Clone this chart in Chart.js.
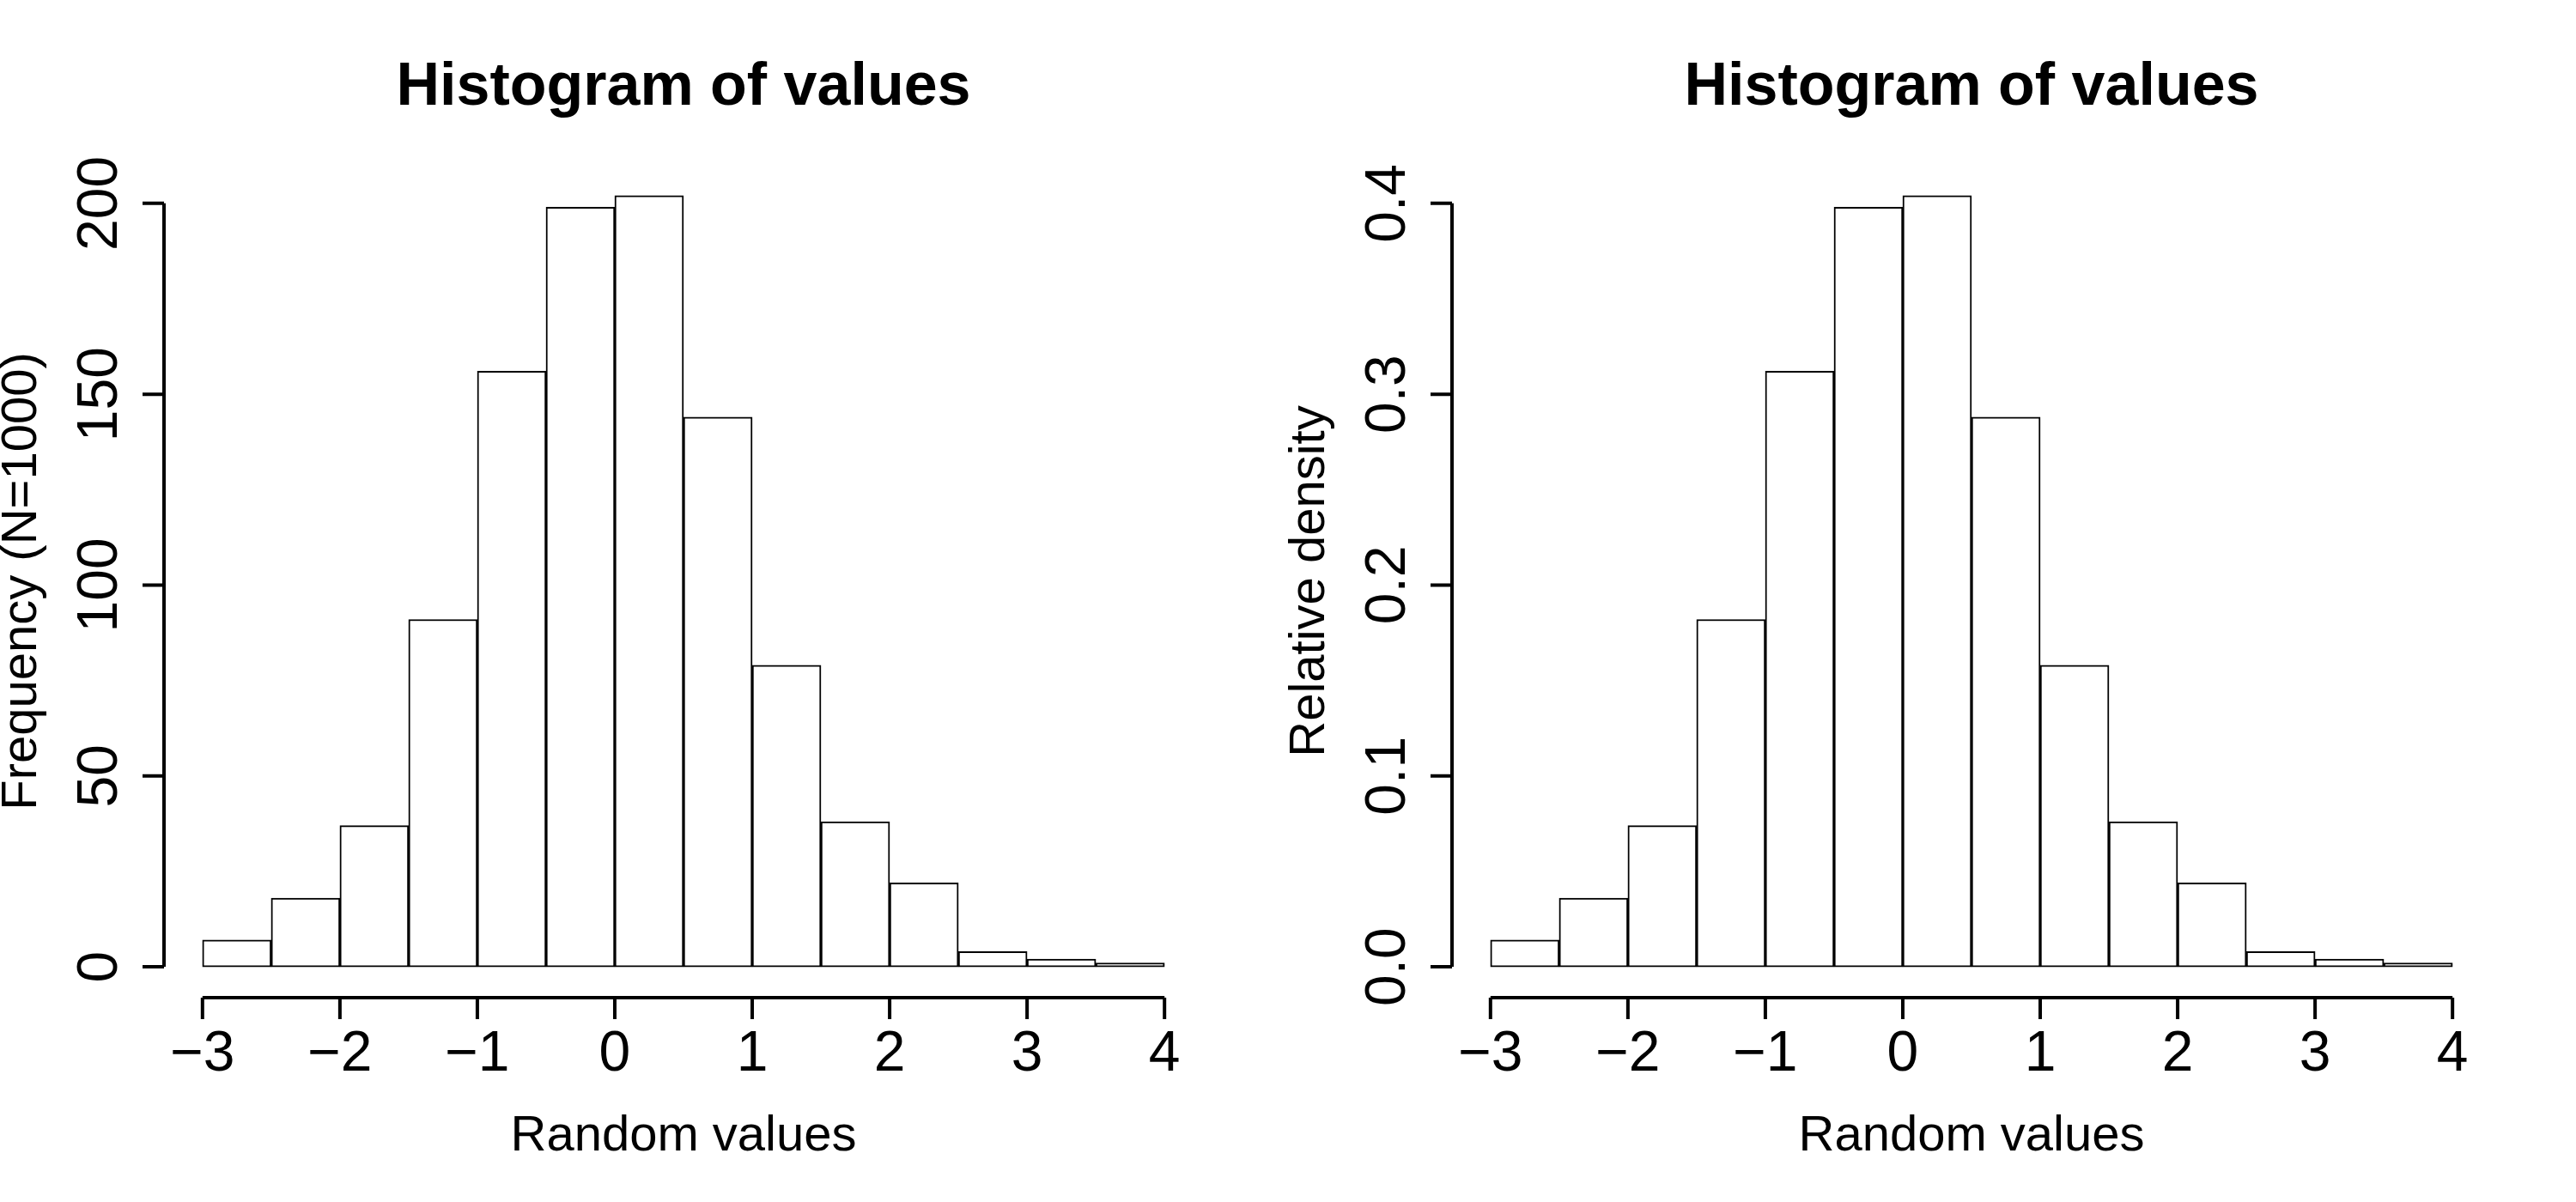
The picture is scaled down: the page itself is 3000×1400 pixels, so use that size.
<!DOCTYPE html>
<html>
<head>
<meta charset="utf-8">
<title>Histogram of values</title>
<script src="https://cdn.jsdelivr.net/npm/chart.js@4/dist/chart.umd.min.js"></script>
<style>
  html, body { margin: 0; padding: 0; background: #fff; }
  .wrap { display: flex; width: 3000px; height: 1400px; }
  .panel { width: 1500px; height: 1400px; }
</style>
</head>
<body>
<div class="wrap">
  <div class="panel"><canvas id="hist-freq" width="1500" height="1400"></canvas></div>
  <div class="panel"><canvas id="hist-dens" width="1500" height="1400"></canvas></div>
</div>
<script>
// bin edges (width 0.5) and counts, N = 1000
const binEdges = [-3, -2.5, -2, -1.5, -1, -0.5, 0, 0.5, 1, 1.5, 2, 2.5, 3, 3.5, 4];
const counts = [7, 18, 37, 91, 156, 199, 202, 144, 79, 38, 22, 4, 2, 1];
const densities = [0.014, 0.036, 0.074, 0.182, 0.312, 0.398, 0.404, 0.288, 0.158, 0.076, 0.044, 0.008, 0.004, 0.002];

const xTicks = [-3, -2, -1, 0, 1, 2, 3, 4];
const freqTicks = [0, 50, 100, 150, 200];
const densTicks = [0, 0.1, 0.2, 0.3, 0.4];
const densTickLabels = ['0.0', '0.1', '0.2', '0.3', '0.4'];

const FONT = '"Liberation Sans", Arial, Helvetica, sans-serif';

// R style axes: detached lines that only span first..last tick, ticks outward
const rAxes = {
  id: 'rAxes',
  afterDraw(chart, args, opts) {
    const ctx = chart.ctx;
    const xs = chart.scales.x, ys = chart.scales.y;
    const area = chart.chartArea;
    ctx.save();
    ctx.strokeStyle = '#000';
    ctx.fillStyle = '#000';
    ctx.lineWidth = 4;
    ctx.lineCap = 'butt';

    // x axis
    const yAx = area.bottom;
    ctx.beginPath();
    ctx.moveTo(xs.getPixelForValue(xTicks[0]), yAx);
    ctx.lineTo(xs.getPixelForValue(xTicks[xTicks.length - 1]), yAx);
    xTicks.forEach(v => {
      const px = xs.getPixelForValue(v);
      ctx.moveTo(px, yAx);
      ctx.lineTo(px, yAx + 25);
    });
    ctx.stroke();
    ctx.font = '66px ' + FONT;
    ctx.textAlign = 'center';
    ctx.textBaseline = 'alphabetic';
    xTicks.forEach(v => {
      const txt = v < 0 ? '\u2212' + Math.abs(v) : String(v);
      ctx.fillText(txt, xs.getPixelForValue(v), 1247);
    });

    // y axis
    const xAx = area.left;
    const yt = opts.yTicks;
    ctx.beginPath();
    ctx.moveTo(xAx, ys.getPixelForValue(yt[0]));
    ctx.lineTo(xAx, ys.getPixelForValue(yt[yt.length - 1]));
    yt.forEach(v => {
      const py = ys.getPixelForValue(v);
      ctx.moveTo(xAx, py);
      ctx.lineTo(xAx - 25, py);
    });
    ctx.stroke();
    yt.forEach((v, i) => {
      ctx.save();
      ctx.translate(136, ys.getPixelForValue(v));
      ctx.rotate(-Math.PI / 2);
      ctx.fillText(opts.yLabels[i], 0, 0);
      ctx.restore();
    });

    // titles
    const cx = (area.left + area.right) / 2;
    ctx.font = 'bold 70px ' + FONT;
    ctx.fillText(opts.title, cx, 122);
    ctx.font = '58px ' + FONT;
    ctx.fillText(opts.xTitle, cx, 1340);
    ctx.save();
    ctx.translate(42, (area.top + area.bottom) / 2);
    ctx.rotate(-Math.PI / 2);
    ctx.fillText(opts.yTitle, 0, 0);
    ctx.restore();
    ctx.restore();
  }
};

function drawHist(id, values, yTicks, yLabels, yTitle) {
  const centers = binEdges.slice(0, -1).map((e, i) => (e + binEdges[i + 1]) / 2);
  const lo = binEdges[0], hi = binEdges[binEdges.length - 1];
  const top = Math.max(...values);
  // R extends the ranges by 4% on each side
  const xPad = (hi - lo) * 0.04, yPad = top * 0.04;
  return new Chart(document.getElementById(id), {
    type: 'bar',
    data: {
      datasets: [{
        data: centers.map((c, i) => ({ x: c, y: values[i] })),
        backgroundColor: '#fff',
        borderColor: '#000',
        borderWidth: 2,
        borderSkipped: false,
        barPercentage: 1,
        categoryPercentage: 1
      }]
    },
    options: {
      responsive: false,
      animation: false,
      devicePixelRatio: 1,
      layout: { padding: { left: 191, right: 99, top: 192, bottom: 238 } },
      plugins: {
        legend: { display: false },
        tooltip: { enabled: false },
        rAxes: { yTicks, yLabels, yTitle, title: 'Histogram of values', xTitle: 'Random values' }
      },
      scales: {
        x: {
          type: 'linear', display: false, offset: false, min: lo - xPad, max: hi + xPad,
          // keep tick spacing wide so bar width comes from the 0.5 bin spacing
          afterBuildTicks: s => { s.ticks = binEdges.map(v => ({ value: v })); }
        },
        y: { type: 'linear', display: false, min: -yPad, max: top + yPad }
      }
    },
    plugins: [rAxes]
  });
}

drawHist('hist-freq', counts, freqTicks, freqTicks.map(String), 'Frequency (N=1000)');
drawHist('hist-dens', densities, densTicks, densTickLabels, 'Relative density');
</script>
</body>
</html>
